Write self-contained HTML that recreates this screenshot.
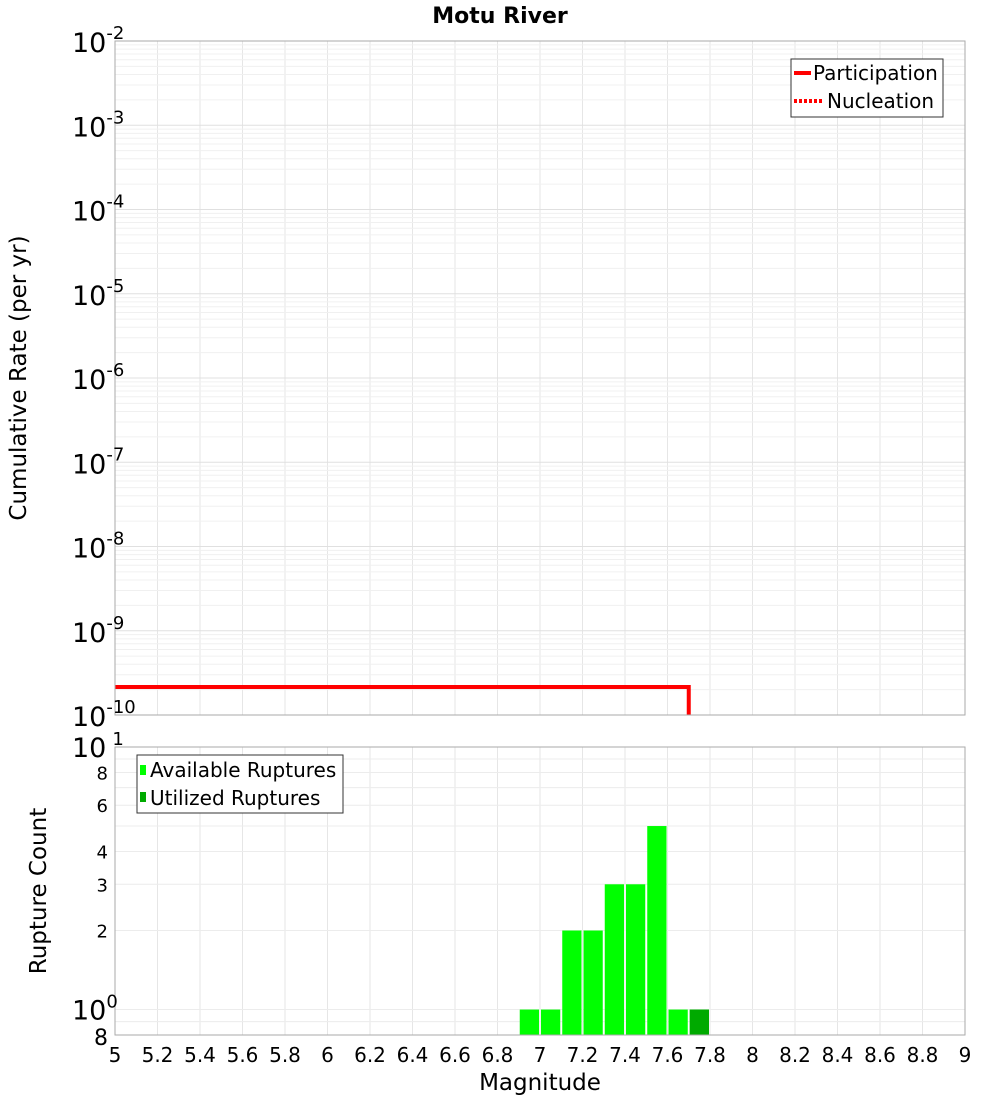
<!DOCTYPE html>
<html><head><meta charset="utf-8"><style>
body{margin:0;background:#fff;}
svg text{font-family:"DejaVu Sans","Liberation Sans",sans-serif;}
</style></head><body>
<svg id="c" width="1000" height="1100" xmlns="http://www.w3.org/2000/svg">
<text x="500" y="23" text-anchor="middle" font-size="22" font-weight="bold">Motu River</text>
<text transform="translate(26,378) rotate(-90)" text-anchor="middle" font-size="23">Cumulative Rate (per yr)</text>
<text transform="translate(46,891) rotate(-90)" text-anchor="middle" font-size="23">Rupture Count</text>
<text x="540" y="1090" text-anchor="middle" font-size="23">Magnitude</text>
<g id="grid"></g><g id="marks"></g><g id="axes"></g>
<g>
<rect x="791" y="59" width="152" height="58" fill="#fff" stroke="#333"/>
<line x1="794" y1="73" x2="811" y2="73" stroke="red" stroke-width="4"/>
<text x="813" y="80" font-size="20">Participation</text>
<line x1="794" y1="101" x2="822" y2="101" stroke="red" stroke-width="4" stroke-dasharray="3,2"/>
<text x="827" y="108" font-size="20">Nucleation</text>
</g>
<g>
<rect x="137" y="755" width="206" height="58" fill="#fff" stroke="#333"/>
<rect x="140" y="765" width="6" height="10" fill="#00ff00"/>
<text x="150" y="777" font-size="20">Available Ruptures</text>
<rect x="140" y="792" width="6" height="10" fill="#00aa00"/>
<text x="150" y="805" font-size="20">Utilized Ruptures</text>
</g>
</svg>
<script>
const magBins=[6.95,7.05,7.15,7.25,7.35,7.45,7.55,7.65,7.75];
const availCounts=[1,1,2,2,3,3,5,1,1];
const usedBins=[7.75];
const usedCounts=[1];
const partMags=[5.0,7.7,7.7];
const partRates=[2.15e-10,2.15e-10,1e-10];
const xTicks=[5,5.2,5.4,5.6,5.8,6,6.2,6.4,6.6,6.8,7,7.2,7.4,7.6,7.8,8,8.2,8.4,8.6,8.8,9];
const topDecades=[-10,-9,-8,-7,-6,-5,-4,-3,-2];
const botTicks=[2,3,4,6,8];
const NS="http://www.w3.org/2000/svg";
const L=115,R=965,T1=41,B1=715,T2=747,B2=1035;
const xs=m=>L+(m-5)/4*(R-L);
const y1=v=>T1+(-2-Math.log10(v))/8*(B1-T1);
const lo=Math.log10(0.8);
const y2=v=>B2-(Math.log10(v)-lo)/(1-lo)*(B2-T2);
function mk(p,tag,a){const e=document.createElementNS(NS,tag);for(const k in a)e.setAttribute(k,a[k]);document.getElementById(p).appendChild(e);return e;}
for(const t of xTicks){const x=xs(t);
 let g=mk('grid','line',{x1:x,x2:x,y1:T1,y2:B1,stroke:'#e6e6e6'});
 
 
 g=mk('grid','line',{x1:x,x2:x,y1:T2,y2:B2,stroke:'#e6e6e6'});
 
 }
for(let d=-10;d<-2;d++)for(let k=1;k<10;k++){const y=y1(k*Math.pow(10,d));
 const g=mk('grid','line',{x1:L,x2:R,y1:y,y2:y,stroke:k==1?'#e0e0e0':'#f0f0f0'});
 
 }
for(const v of [0.9,1,2,3,4,5,6,7,8,9]){const y=y2(v);
 const g=mk('grid','line',{x1:L,x2:R,y1:y,y2:y,stroke:'#ececec'});
 
 }
let pts=partMags.map((m,i)=>xs(m)+','+Math.min(y1(partRates[i]),B1)).join(' ');
let pl=mk('marks','polyline',{points:pts,fill:'none',stroke:'red','stroke-width':4});


magBins.forEach((m,i)=>{const x0=xs(m-0.05)+1,x1=xs(m+0.05)-1,y=y2(availCounts[i]);
 const b=mk('marks','rect',{x:x0,y:y,width:x1-x0,height:B2-y,fill:'#00ff00'});
 
 });
usedBins.forEach((m,i)=>{const x0=xs(m-0.05)+1,x1=xs(m+0.05)-1,y=y2(usedCounts[i]);
 const b=mk('marks','rect',{x:x0,y:y,width:x1-x0,height:B2-y,fill:'#00aa00'});
 
 });
mk('axes','rect',{x:L,y:T1,width:R-L,height:B1-T1,fill:'none',stroke:'#aaa'});
mk('axes','rect',{x:L,y:T2,width:R-L,height:B2-T2,fill:'none',stroke:'#aaa'});
for(const t of xTicks){const e=mk('axes','text',{x:xs(t),y:1062,'text-anchor':'middle','font-size':20});e.textContent=String(t);
 
 }
for(const d of topDecades){const y=y1(Math.pow(10,d));
 const e=mk('axes','text',{x:72,y:y+11,'font-size':27});
 e.innerHTML='10<tspan dy="-13" font-size="18">'+d+'</tspan>';
 
 }
function btxt(s,y,fs){const e=mk('axes','text',{x:108,y:y,'text-anchor':'end','font-size':fs});e.innerHTML=s;
 
 return e;}
for(const v of botTicks)btxt(String(v),y2(v)+7,18);
let e=mk('axes','text',{x:72,y:y2(10)+10,'font-size':27});e.innerHTML='10<tspan dx="6" dy="-12" font-size="18">1</tspan>';


e=mk('axes','text',{x:72,y:y2(1)+10,'font-size':27});e.innerHTML='10<tspan dy="-12" font-size="18">0</tspan>';


btxt('8',B2+10,22);
</script>
</body></html>
